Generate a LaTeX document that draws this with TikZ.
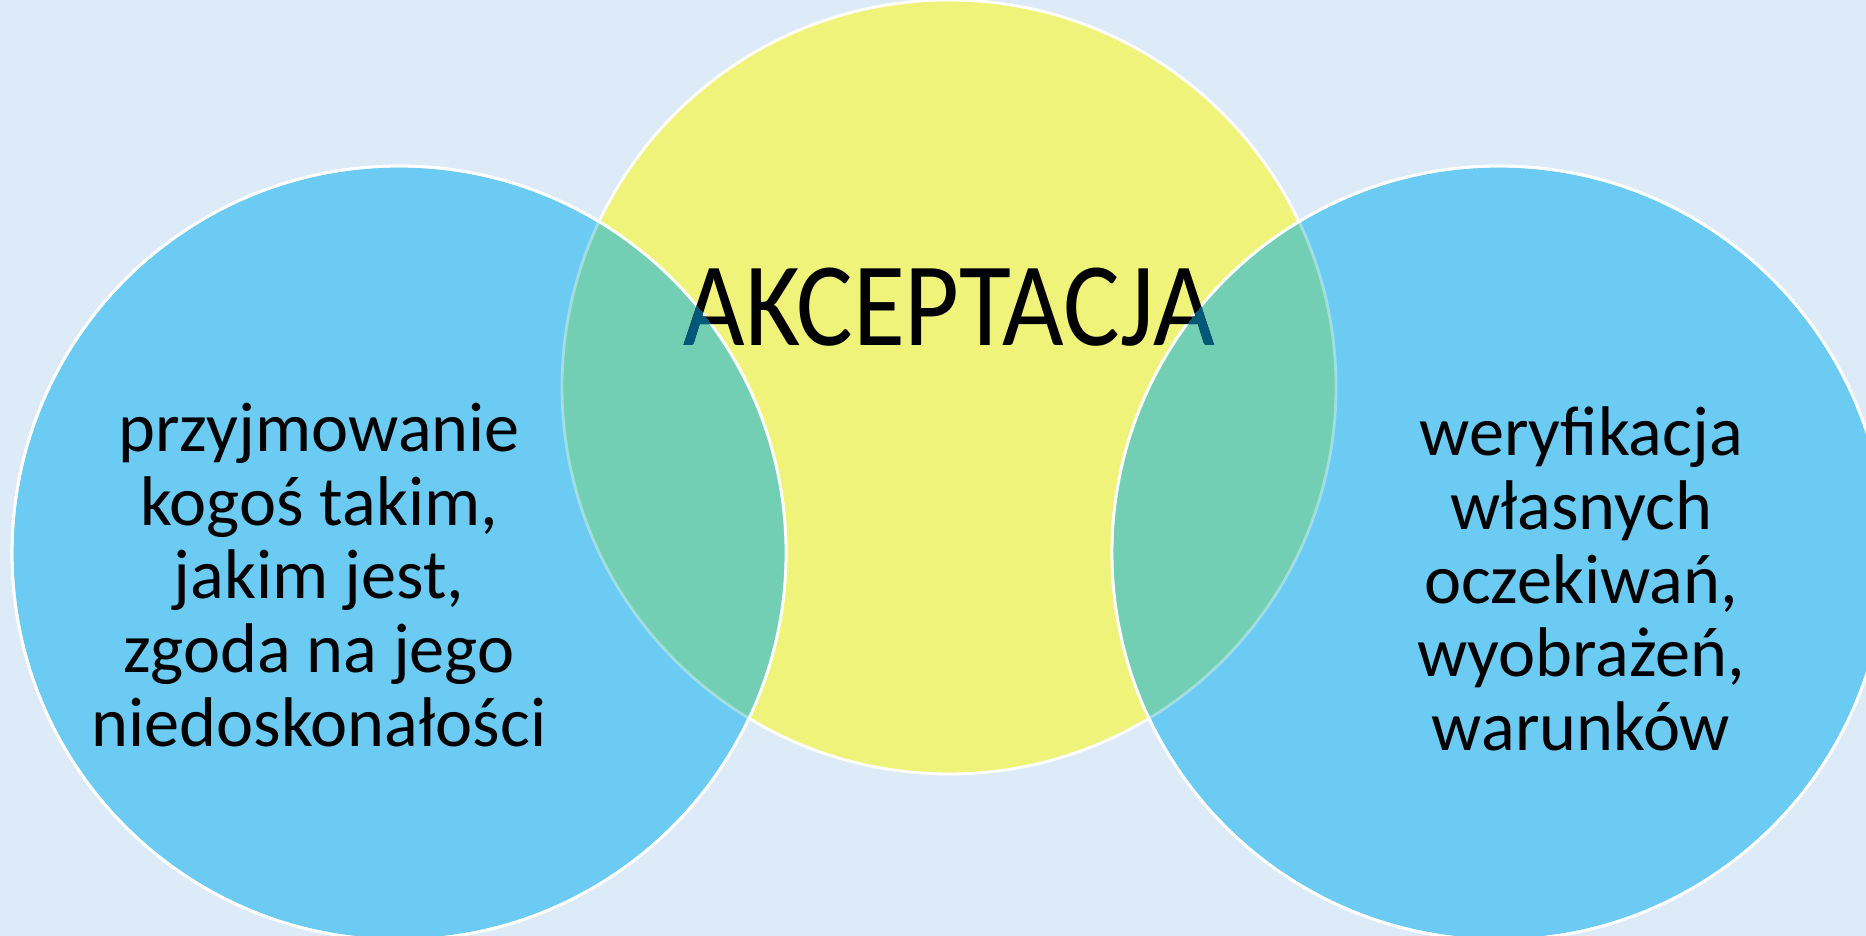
\documentclass[tikz,border=0pt]{standalone}
\usepackage{fontspec}
\setmainfont{Carlito}
\usetikzlibrary{positioning}
\definecolor{bgblue}{RGB}{221,234,248}
\definecolor{circblue}{RGB}{108,203,242}
\definecolor{circyellow}{RGB}{239,243,122}
\definecolor{lensgreen}{RGB}{115,207,180}
\definecolor{textteal}{RGB}{0,88,120}

\begin{document}
\begin{tikzpicture}[
  ring/.style={circle, draw=white, line width=0.8pt, minimum size=7.74cm, inner sep=0pt},
  body/.style={align=center, font=\fontsize{20}{21}\selectfont, text=black},
  title/.style={font=\fontsize{34}{40}\selectfont, anchor=base, xscale=0.89, transform shape}
]
  \fill[bgblue] (0,0) rectangle (18.66,9.36);
  \useasboundingbox (0,0) rectangle (18.66,9.36);

  % Circles
  \node[ring, fill=circyellow] (accept) at (9.49,5.49) {};
  \node[ring, fill=circblue] (leftc) at (3.99,3.83) {};
  \node[ring, fill=circblue] (rightc) at (14.99,3.83) {};

  % Overlaps
  \begin{scope}
    \clip (accept.center) circle (3.87);
    \fill[lensgreen] (leftc.center) circle (3.87);
    \fill[lensgreen] (rightc.center) circle (3.87);
  \end{scope}
  \draw[white, line width=0.8pt, opacity=0.35] (accept.center) circle (3.87);
  \draw[white, line width=0.8pt] (leftc.center) circle (3.87);
  \draw[white, line width=0.8pt] (rightc.center) circle (3.87);

  % Title
  \node[title] (akc) at (9.49,5.90) {AKCEPTACJA};
  \begin{scope}
    \clip (leftc.center) circle (3.87) (rightc.center) circle (3.87);
    \node[title, text=textteal] at (9.49,5.90) {AKCEPTACJA};
  \end{scope}

  % Texts
  \node[body] (lefttext) at (3.19,3.61) {przyjmowanie\\kogoś takim,\\jakim jest,\\zgoda na jego\\niedoskonałości};
  \node[body] (righttext) at (15.81,3.57) {weryfikacja\\własnych\\oczekiwań,\\wyobrażeń,\\warunków};
\end{tikzpicture}
\end{document}
